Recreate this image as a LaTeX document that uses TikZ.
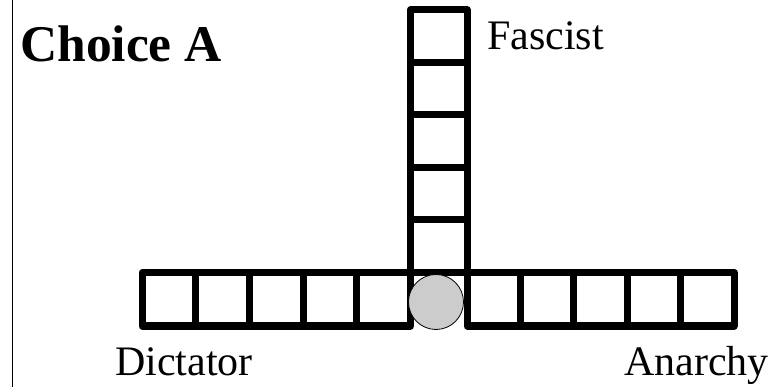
\documentclass[tikz,border=0pt]{standalone}
\usepackage{fontspec}
\setmainfont{Liberation Serif}
\begin{document}
\begin{tikzpicture}[x=1pt,y=-1pt,
  cell/.style={draw=black,line width=7pt,line join=round},
  lbl/.style={inner sep=0pt,anchor=base west,font=\fontsize{42}{48}\selectfont},
  ttl/.style={inner sep=0pt,anchor=base west,font=\bfseries\fontsize{51.5}{60}\selectfont}]
\useasboundingbox (0,0) rectangle (779,387);
\fill[white] (0,0) rectangle (779,387);
\draw[line width=1.2pt] (12.5,0) -- (12.5,387);
% left row
\foreach \i in {0,...,4}{
  \draw[cell] ({142+53.7*\i},272.5) rectangle ({142+53.7*(\i+1)},326);
}
% right row
\foreach \i in {0,...,4}{
  \draw[cell] ({467+53.4*\i},272.5) rectangle ({467+53.4*(\i+1)},326);
}
% column
\foreach \i in {0,...,4}{
  \draw[cell] (410.5,{10+52.5*\i}) rectangle (467,{10+52.5*(\i+1)});
}
% middle cell (open bottom)
\draw[cell] (410.5,326) -- (410.5,272.5) -- (467,272.5) -- (467,326);
\node[circle,draw=black,line width=0.8pt,fill=black!20,minimum size=55pt,inner sep=0pt] (ball) at (436,302) {};
\node[ttl] (title) at (20,62) {Choice A};
\node[lbl] (fascist) at (487,50) {Fascist};
\node[lbl] (dictator) at (115,375) {Dictator};
\node[lbl] (anarchy) at (624,375) {Anarchy};
\end{tikzpicture}
\end{document}
